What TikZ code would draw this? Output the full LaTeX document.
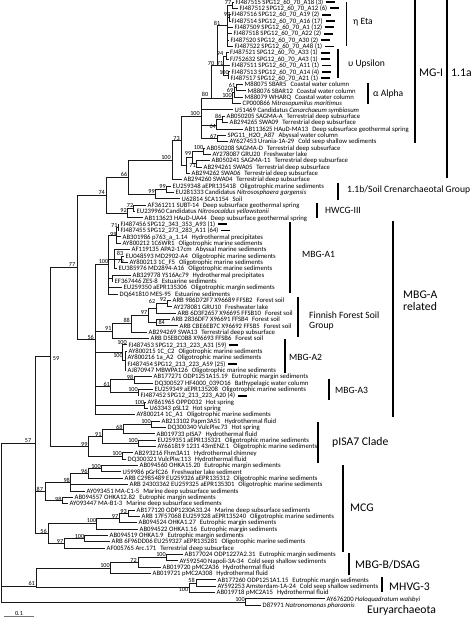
\documentclass[tikz,border=0pt]{standalone}
\usepackage{fontspec}
\setmainfont{Carlito}
\newcommand\envsp{\hspace{4pt}}
\newcommand\sbar{\hspace{3pt}\rule[1.3pt]{9pt}{1.8pt}}
\newcommand\lf[4]{\coordinate (#1) at (#2,#3); \node[leaf] (#1t) at (#1) {#4};}
\newcommand\kids[2]{\foreach \kk in {#2}{\draw[br] (#1) |- (\kk);}}
\newcommand\bsl[4]{\node[bs] (#1) at (#2,#3) {#4};}
\begin{document}
\begin{tikzpicture}[x=1pt,y=-1pt,
  br/.style={line width=0.9pt, draw=black!90},
  leaf/.style={anchor=base west, inner sep=0pt, xshift=1.5pt, yshift=-2.2pt, font=\fontsize{6.7}{7}\selectfont},
  bs/.style={inner sep=0pt, font=\fontsize{6.2}{6.5}\selectfont},
  grp/.style={line width=1.2pt},
  gl/.style={anchor=west, inner sep=0pt, font=\fontsize{9.6}{11}\selectfont},
  gL/.style={anchor=west, inner sep=0pt, font=\fontsize{11.7}{13}\selectfont, align=left},
]
\useasboundingbox (0,0) rectangle (474,617);
% ---------------- leaves ----------------
\lf{L1}{234}{2.0}{FJ487515 SPG12\_60\_70\_A18 (3)\sbar}
\lf{L2}{238}{8.35}{FJ487512 SPG12\_60\_70\_A12 (6)\sbar}
\lf{L3}{230}{14.7}{FJ487516 SPG12\_60\_70\_A19 (2)\sbar}
\lf{L4}{230}{21.05}{FJ487514 SPG12\_60\_70\_A16 (17)\sbar}
\lf{L5}{233}{27.4}{FJ487509 SPG12\_60\_70\_A1 (12)\sbar}
\lf{L6}{232}{33.75}{FJ487518 SPG12\_60\_70\_A22 (2)\sbar}
\lf{L7}{229}{40.1}{FJ487520 SPG12\_60\_70\_A30 (2)\sbar}
\lf{L8}{233}{46.45}{FJ487522 SPG12\_60\_70\_A48 (1)\sbar}
\lf{L9}{228.5}{52.8}{FJ487521 SPG12\_60\_70\_A33 (1)\sbar}
\lf{L10}{228.5}{59.15}{FJ752632 SPG12\_60\_70\_A43 (1)\sbar}
\lf{L11}{230}{65.5}{FJ487511 SPG12\_60\_70\_A11 (1)\sbar}
\lf{L12}{230}{71.85}{FJ487513 SPG12\_60\_70\_A14 (4)\sbar}
\lf{L13}{229}{78.2}{FJ487517 SPG12\_60\_70\_A21 (1)\sbar}
\lf{L14}{243}{84.55}{M88075 SBAR5\envsp Coastal water column}
\lf{L15}{246}{90.9}{M88076 SBAR12\envsp Coastal water column}
\lf{L16}{243}{97.25}{M88079 WHARQ\envsp Coastal water column}
\lf{L17}{241}{103.6}{CP000866 \textit{Nitrosopumilus maritimus}}
\lf{L18}{233}{109.95}{U51469 Candidatus \textit{Cenarchaeum symbiosum}}
\lf{L19}{225}{116.3}{AB050205 SAGMA-A\envsp Terrestrial deep subsurface}
\lf{L20}{228}{122.65}{AB294265 SWA09\envsp Terrestrial deep subsurface}
\lf{L21}{243}{129.0}{AB113625 HAuD-MA13\envsp Deep subsurface geothermal spring}
\lf{L22}{226}{135.35}{SPG11\_H2O\_A87\envsp Abyssal water column}
\lf{L23}{228}{141.7}{AY627453 Urania-1A-29\envsp Cold seep shallow sediments}
\lf{L24}{205}{148.05}{AB050208 SAGMA-D\envsp Terrestrial deep subsurface}
\lf{L25}{211}{154.4}{AY278087 GRU20\envsp Freshwater lake}
\lf{L26}{210}{160.75}{AB050241 SAGMA-11\envsp Terrestrial deep subsurface}
\lf{L27}{202}{167.1}{AB294261 SWA05\envsp Terrestrial deep subsurface}
\lf{L28}{190}{173.45}{AB294262 SWA06\envsp Terrestrial deep subsurface}
\lf{L29}{182}{179.8}{AB294260 SWA04\envsp Terrestrial deep subsurface}
\lf{L30}{171}{186.15}{EU259348 aEPR135418\envsp Oligotrophic marine sediments}
\lf{L31}{174}{192.5}{EU281333 Candidatus \textit{Nitrososphaera gargensis}}
\lf{L32}{180}{198.85}{U62814 SCA1154\envsp Soil}
\lf{L33}{146}{205.2}{AF361211 SUBT-14\envsp Deep subsurface geothermal spring}
\lf{L34}{135}{211.55}{EU239960 Candidatus \textit{Nitrosocaldus yellowstonii}}
\lf{L35}{143}{217.9}{AB113623 HAuD-UA44\envsp Deep subsurface geothermal spring}
\lf{L36}{119}{224.25}{FJ487456 SPG12\_343\_353\_A93 (1)\sbar}
\lf{L37}{119}{230.6}{FJ487455 SPG12\_273\_283\_A11 (64)\sbar}
\lf{L38}{121}{236.95}{AB301986 p763\_a\_1.14\envsp Hydrothermal precipitates}
\lf{L39}{121}{243.3}{AY800212 1C6WR1\envsp Oligotrophic marine sediments}
\lf{L40}{130}{249.65}{AF119135 APA2-17cm\envsp Abyssal marine sediments}
\lf{L41}{124}{256.0}{EU048593 MD2902-A4\envsp Oligotrophic marine sediments}
\lf{L42}{128}{262.35}{AY800213 1C\_F5\envsp Oligotrophic marine sediments}
\lf{L43}{117}{268.7}{EU385976 MD2894-A16\envsp Oligotrophic marine sediments}
\lf{L44}{131}{275.05}{AB329778 YS16Ac79\envsp Hydrothermal precipitates}
\lf{L45}{113}{281.4}{EF367446 ZES-8\envsp Estuarine sediments}
\lf{L46}{122}{287.75}{EU259350 aEPR135306\envsp Oligotrophic margin sediments}
\lf{L47}{118}{294.1}{DQ641810 MES-95\envsp Estuarine sediments}
\lf{L48}{171}{300.45}{ARB 986D72F7 X96689 FFSB2\envsp Forest soil}
\lf{L49}{172}{306.8}{AY278081 GRU10\envsp Freshwater lake}
\lf{L50}{176}{313.15}{ARB 6D3F2657 X96695 FFSB10\envsp Forest soil}
\lf{L51}{170}{319.5}{ARB 2836DF7 X96691 FFSB4\envsp Forest soil}
\lf{L52}{178}{325.85}{ARB CBE6EB7C X96692 FFSB5\envsp Forest soil}
\lf{L53}{147}{332.2}{AB294269 SWA13\envsp Terrestrial deep subsurface}
\lf{L54}{149}{338.55}{ARB D5EBC0B8 X96693 FFSB6\envsp Forest soil}
\lf{L55}{127}{344.9}{FJ487453 SPG12\_213\_223\_A31 (59)\sbar}
\lf{L56}{127}{351.25}{AY800215 1C\_C2\envsp Oligotrophic marine sediments}
\lf{L57}{126}{357.6}{AY800216 1a\_A2\envsp Oligotrophic marine sediments}
\lf{L58}{126}{363.95}{FJ487454 SPG12\_213\_223\_A59 (25)\sbar}
\lf{L59}{126}{370.3}{AJ870947 MBWPA126\envsp Oligotrophic marine sediments}
\lf{L60}{152}{376.65}{AB177271 ODP1251A15.19\envsp Eutrophic margin sediments}
\lf{L61}{153}{383.0}{DQ300527 HF4000\_039O16\envsp Bathypelagic water column}
\lf{L62}{153}{389.35}{EU259349 aEPR135208\envsp Oligotrophic marine sediments}
\lf{L63}{139}{395.7}{FJ487452 SPG12\_213\_223\_A20 (4)\sbar}
\lf{L64}{146}{402.05}{AY861965 OPPD032\envsp Hot spring}
\lf{L65}{148}{408.4}{U63343 pSL12\envsp Hot spring}
\lf{L66}{135}{414.75}{AY800214 1C\_A1\envsp Oligotrophic marine sediments}
\lf{L67}{160}{421.1}{AB213102 Papm3A51\envsp Hydrothermal fluid}
\lf{L68}{166}{427.45}{DQ300340 VulcPlw.73\envsp Hot spring}
\lf{L69}{155}{433.8}{AB019733 pISA7\envsp Hydrothermal fluid}
\lf{L70}{156}{440.15}{EU259351 aEPR135321\envsp Oligotrophic marine sediments}
\lf{L71}{156}{446.5}{AY661819 1231 43mENZ.1\envsp Oligotrophic marine sediments}
\lf{L72}{133}{452.85}{AB293216 Fhm3A11\envsp Hydrothermal chimney}
\lf{L73}{126}{459.2}{DQ300321 VulcPlw.113\envsp Hydrothermal fluid}
\lf{L74}{138}{465.55}{AB094560 OHKA15.20\envsp Eutrophic margin sediments}
\lf{L75}{121}{471.9}{U59986 pGrfC26\envsp Freshwater lake sediment}
\lf{L76}{123}{478.25}{ARB C2985489 EU259326 aEPR135312\envsp Oligotrophic marine sediments}
\lf{L77}{128}{484.6}{ARB 24303362 EU259325 aEPR135301\envsp Oligotrophic marine sediments}
\lf{L78}{85}{490.95}{AY093451 MA-C1-5\envsp Marine deep subsurface sediments}
\lf{L79}{73}{497.3}{AB094557 OHKA12.82\envsp Eutrophic margin sediments}
\lf{L80}{68}{503.65}{AY093447 MA-B1-3\envsp Marine deep subsurface sediments}
\lf{L81}{135}{510.0}{AB177120 ODP1230A33.24\envsp Marine deep subsurface sediments}
\lf{L82}{140}{516.35}{ARB 17F57068 EU259328 aEPR135240\envsp Oligotrophic marine sediments}
\lf{L83}{137}{522.7}{AB094524 OHKA1.27\envsp Eutrophic margin sediments}
\lf{L84}{138}{529.05}{AB094522 OHKA1.16\envsp Eutrophic margin sediments}
\lf{L85}{108}{535.4}{AB094519 OHKA1.9\envsp Eutrophic margin sediments}
\lf{L86}{110}{541.75}{ARB 6F96DD06 EU259327 aEPR135281\envsp Oligotrophic marine sediments}
\lf{L87}{105}{548.1}{AF005765 Arc.171\envsp Terrestrial deep subsurface}
\lf{L88}{183}{554.45}{AB177024 ODP1227A2.31\envsp Eutrophic margin sediments}
\lf{L89}{178}{560.8}{AY592540 Napoli-3A-34\envsp Cold seep shallow sediments}
\lf{L90}{161}{567.15}{AB019720 pMC2A36\envsp Hydrothermal fluid}
\lf{L91}{151}{573.5}{AB019721 pMC2A308\envsp Hydrothermal fluid}
\lf{L92}{216}{579.85}{AB177260 ODP1251A1.15\envsp Eutrophic margin sediments}
\lf{L93}{216}{586.2}{AY592253 Amsterdam-1A-24\envsp Cold seep shallow sediments}
\lf{L94}{215}{592.55}{AB019718 pMC2A15\envsp Hydrothermal fluid}
\lf{L95}{325}{598.9}{AY676200 \textit{Haloquadratum walsbyi}}
\lf{L96}{261}{605.25}{D87971 \textit{Natronomonas pharaonis}}
% ---------------- internal nodes ----------------
\coordinate (n77) at (232,5.2);
\coordinate (n97) at (229.5,17.9);
\coordinate (nEta) at (227,25.8);
\coordinate (n94) at (226,56);
\coordinate (n100u) at (228,75);
\coordinate (nUps) at (223.5,65.5);
\coordinate (nEU) at (217,65.5);
\coordinate (n61) at (236.5,87.7);
\coordinate (n69) at (234.5,92.5);
\coordinate (n100a) at (232.5,98);
\coordinate (n80) at (211,98);
\coordinate (n86) at (222,119.5);
\coordinate (n64) at (216,125);
\coordinate (n67) at (217,138.5);
\coordinate (nMGI) at (201,116);
\coordinate (n100d) at (203,151.2);
\coordinate (n71a) at (196.5,163.9);
\coordinate (n99a) at (192,157.6);
\coordinate (nX) at (186,165.5);
\coordinate (n73) at (181,140.8);
\coordinate (n100c) at (172,160.3);
\coordinate (n99b) at (166,189.3);
\coordinate (n99c) at (155,194);
\coordinate (n66) at (128,177.2);
\coordinate (n72) at (133,208.4);
\coordinate (n92) at (127,213.1);
\coordinate (n74) at (106,195.2);
\coordinate (n71b) at (118,227.4);
\coordinate (n99d) at (116.5,235.4);
\coordinate (n83) at (121,259.2);
\coordinate (nA1s) at (114,259.2);
\coordinate (nAB) at (112,278.2);
\coordinate (n100e) at (108,264.75);
\coordinate (n92b) at (167,303.6);
\coordinate (n62) at (156,308.4);
\coordinate (n84) at (156,322.7);
\coordinate (n97f) at (148,315.5);
\coordinate (n88) at (131,323.9);
\coordinate (n91f) at (112,331.2);
\coordinate (n100n) at (125,360.8);
\coordinate (nA2) at (122,352.9);
\coordinate (n98c) at (134,379.8);
\coordinate (n100o) at (138,392.5);
\coordinate (n61a) at (110,386.2);
\coordinate (n100p) at (144,405.2);
\coordinate (N56) at (95,339.75);
\coordinate (N77) at (77.7,267.5);
\coordinate (n100i) at (151,424.3);
\coordinate (n68) at (123,429);
\coordinate (n100j) at (138,443.3);
\coordinate (n91) at (102,436.2);
\coordinate (n100k) at (122,456);
\coordinate (n99p) at (88,446.1);
\coordinate (N59) at (50,356.8);
\coordinate (n100f) at (101,468.7);
\coordinate (n96) at (88,473.5);
\coordinate (n98a) at (70,482.2);
\coordinate (n98b) at (62,500.5);
\coordinate (N87) at (45,491.35);
\coordinate (n93) at (128,513.2);
\coordinate (n97c) at (119,518);
\coordinate (n100g) at (96,523.5);
\coordinate (n100h) at (84,538.6);
\coordinate (n97b) at (64,543.3);
\coordinate (N56m) at (48,533.4);
\coordinate (N57) at (35,443.7);
\coordinate (n100q) at (166,557.6);
\coordinate (n72b) at (138,562.4);
\coordinate (n100r) at (110,568);
\coordinate (n58) at (196,583);
\coordinate (n100s) at (189,587.8);
\coordinate (N61) at (36,586);
\coordinate (nEury) at (245,602);
\coordinate (root) at (1,520);
% ---------------- branches ----------------
\kids{n77}{L1,L2}
\kids{n97}{L3,L4}
\kids{nEta}{n77,n97,L5,L6,L7,L8}
\kids{n94}{L9,L10}
\kids{n100u}{L12,L13}
\kids{nUps}{n94,L11,n100u}
\kids{nEU}{nEta,nUps}
\kids{n61}{L14,L15}
\kids{n69}{n61,L16}
\kids{n100a}{n69,L17}
\kids{n80}{nEU,n100a}
\kids{n86}{L19,L20}
\kids{n64}{n86,L21}
\kids{n67}{L22,L23}
\kids{nMGI}{n80,L18,n64,n67}
\kids{n100d}{L24,L25}
\kids{n71a}{L26,L27}
\kids{n99a}{n100d,n71a}
\kids{nX}{n99a,L28}
\kids{n73}{nMGI,nX}
\kids{n100c}{n73,L29}
\kids{n99b}{L30,L31}
\kids{n99c}{n99b,L32}
\kids{n66}{n100c,n99c}
\kids{n72}{L33,L34}
\kids{n92}{n72,L35}
\kids{n74}{n66,n92}
\kids{n71b}{L36,L37}
\kids{n99d}{n71b,L38,L39}
\kids{n83}{L41,L42}
\kids{nA1s}{L40,n83,L43}
\kids{nAB}{L44,L45}
\kids{n100e}{n99d,nA1s,nAB,L46,L47}
\kids{n92b}{L48,L49}
\kids{n62}{n92b,L50}
\kids{n84}{L51,L52}
\kids{n97f}{n62,n84}
\kids{n88}{n97f,L53}
\kids{n91f}{n88,L54}
\kids{n100n}{L56,L57,L58,L59}
\kids{nA2}{L55,n100n}
\kids{n98c}{L60,L61}
\kids{n100o}{L62,L63}
\kids{n61a}{n98c,n100o}
\kids{n100p}{L64,L65}
\kids{N56}{n100e,n91f,nA2,n61a,n100p,L66}
\kids{N77}{n74,N56}
\kids{n100i}{L67,L68}
\kids{n68}{n100i,L69}
\kids{n100j}{L70,L71}
\kids{n91}{n68,n100j}
\kids{n100k}{L72,L73}
\kids{n99p}{n91,n100k}
\kids{N59}{N77,n99p}
\kids{n100f}{L74,L75}
\kids{n96}{n100f,L76}
\kids{n98a}{n96,L77,L78}
\kids{n98b}{L79,L80}
\kids{N87}{n98a,n98b}
\kids{n93}{L81,L82}
\kids{n97c}{n93,L83}
\kids{n100g}{n97c,L84}
\kids{n100h}{L85,L86}
\kids{n97b}{n100h,L87}
\kids{N56m}{n100g,n97b}
\kids{N57}{N59,N87,N56m}
\kids{n100q}{L88,L89}
\kids{n72b}{n100q,L90}
\kids{n100r}{n72b,L91}
\kids{n58}{L92,L93}
\kids{n100s}{n58,L94}
\kids{N61}{n100r,n100s}
\kids{nEury}{L95,L96}
\kids{root}{N57,N61,nEury}
% ---------------- bootstrap values ----------------
\bsl{b1}{228}{3}{77}
\bsl{b2}{227}{14}{97}
\bsl{b3}{217}{23}{81}
\bsl{b4}{220}{53}{94}
\bsl{b5}{211}{63.5}{70}
\bsl{b6}{220}{63.5}{71}
\bsl{b7}{224}{73}{100}
\bsl{b8}{205}{94}{80}
\bsl{b9}{232}{85.5}{61}
\bsl{b10}{230}{90.5}{69}
\bsl{b11}{227}{96}{100}
\bsl{b12}{195}{113.3}{100}
\bsl{b13}{218.3}{116.5}{86}
\bsl{b14}{212.7}{126.7}{64}
\bsl{b15}{213.3}{136}{67}
\bsl{b16}{176.5}{138.5}{73}
\bsl{b17}{198.5}{148}{100}
\bsl{b18}{188}{153.5}{99}
\bsl{b19}{192.5}{166}{71}
\bsl{b20}{166}{158}{100}
\bsl{b21}{124}{174}{66}
\bsl{b22}{162.5}{186}{99}
\bsl{b23}{151.5}{191}{99}
\bsl{b24}{101.7}{192.5}{74}
\bsl{b25}{130}{205.5}{72}
\bsl{b26}{123.5}{210.5}{92}
\bsl{b27}{114.3}{225.5}{71}
\bsl{b28}{113.3}{234}{99}
\bsl{b29}{103.5}{262}{100}
\bsl{b30}{72}{265}{77}
\bsl{b31}{120}{253}{83}
\bsl{b32}{120.7}{261.5}{79}
\bsl{b33}{152}{301}{62}
\bsl{b34}{163}{299.5}{92}
\bsl{b35}{144}{312.5}{97}
\bsl{b36}{126.7}{320.5}{88}
\bsl{b37}{161.7}{322.7}{84}
\bsl{b38}{108.3}{328.5}{91}
\bsl{b39}{90.7}{337}{56}
\bsl{b40}{56}{358.7}{59}
\bsl{b41}{122}{342.5}{100}
\bsl{b42}{118}{356}{100}
\bsl{b43}{130}{377}{98}
\bsl{b44}{106.7}{384}{61}
\bsl{b45}{133}{390}{100}
\bsl{b46}{139.5}{402.5}{100}
\bsl{b47}{146}{422}{100}
\bsl{b48}{119.3}{427}{68}
\bsl{b49}{98.3}{434}{91}
\bsl{b50}{28}{441}{57}
\bsl{b51}{84.3}{444}{99}
\bsl{b52}{133}{441}{100}
\bsl{b53}{117}{454}{100}
\bsl{b54}{96}{466.5}{100}
\bsl{b55}{84.3}{471.5}{96}
\bsl{b56}{66.7}{480}{98}
\bsl{b57}{39.8}{489.3}{87}
\bsl{b58}{58.3}{499}{98}
\bsl{b59}{123.5}{511.3}{93}
\bsl{b60}{115}{516}{97}
\bsl{b61}{91.5}{521}{100}
\bsl{b62}{43.5}{531}{56}
\bsl{b63}{79.5}{536.5}{100}
\bsl{b64}{60}{541.5}{97}
\bsl{b65}{161}{555}{100}
\bsl{b66}{133.5}{560}{72}
\bsl{b67}{105}{565.5}{100}
\bsl{b68}{31.7}{583.5}{61}
\bsl{b69}{191.5}{580.5}{58}
\bsl{b70}{183.5}{589.5}{100}
\bsl{b71}{240}{599.5}{100}
% ---------------- group brackets ----------------
\draw[grp] (346.7,2) -- (346.7,46);
\node[gl] (gEta) at (353,21.7) {η Eta};
\draw[grp] (338,49) -- (338,78);
\node[gl] (gUps) at (348,64) {υ Upsilon};
\draw[grp] (368,83) -- (368,104);
\node[gl] (gAlp) at (373,94) {α Alpha};
\draw[grp] (415,0) -- (415,143);
\node[gL] (gMGI) at (419,73) {MG-I};
\draw[grp] (447,0) -- (447,178);
\node[gL] (g11a) at (451,73) {1.1a};
\draw[grp] (338,183) -- (338,200);
\node[gl] (g11b) at (347,190) {1.1b/Soil Crenarchaeotal Group};
\draw[grp] (317,203) -- (317,218);
\node[gl] (gHW) at (325,210.7) {HWCG-III};
\draw[grp] (290,222) -- (290,293);
\node[gl] (gA1) at (302,254) {MBG-A1};
\draw[grp] (298,297) -- (298,337);
\node[gl, align=left] (gFF) at (309,321) {Finnish Forest Soil\\[-1.5pt]Group};
\draw[grp] (285,339) -- (285,373);
\node[gl] (gA2) at (289,357) {MBG-A2};
\draw[grp] (329,379) -- (329,400);
\node[gl] (gA3) at (335,390) {MBG-A3};
\draw[grp] (393,221) -- (393,417);
\node[gL] (gMBGA) at (403,300.5) {MBG-A\\[-1pt]related};
\draw[grp] (318,422) -- (318,463);
\node[gL] (gpISA) at (332,442) {pISA7 Clade};
\draw[grp] (343,465) -- (343,552);
\node[gL] (gMCG) at (350,508) {MCG};
\draw[grp] (349,553) -- (349,575);
\node[gL] (gMBGB) at (355,565) {MBG-B/DSAG};
\draw[grp] (382,577) -- (382,592);
\node[gL] (gMHVG) at (389,587) {MHVG-3};
\node[gL] (gEury) at (367,610) {Euryarchaeota};
% ---------------- scale ----------------
\node[bs] (scl) at (19,613.3) {0.1};
\coordinate (sA) at (4,616.5);
\coordinate (sB) at (34,616.5);
\draw[line width=0.8pt, black!55] (sA) -- (sB);
\end{tikzpicture}
\end{document}
